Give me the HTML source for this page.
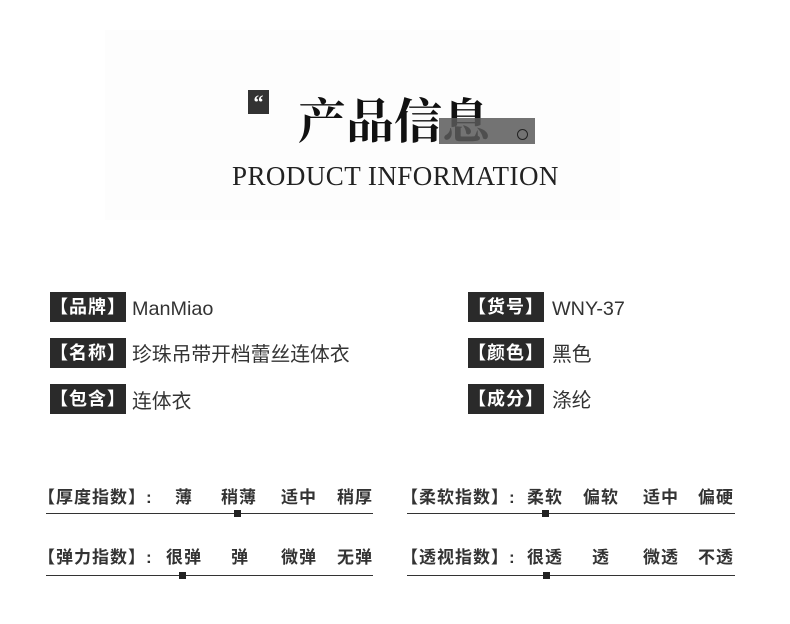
<!DOCTYPE html>
<html><head><meta charset="utf-8"><style>
body{margin:0;width:790px;height:624px;background:#fff;position:relative;overflow:hidden;font-family:"Liberation Sans","Noto Sans CJK SC",sans-serif;color:#222}
.a{position:absolute;white-space:nowrap}
.lb{position:absolute;background:#2a2a2a;color:#fff;font-size:18px;font-weight:bold;height:30px;line-height:30px;width:76px;text-align:center;letter-spacing:1px}
.v{position:absolute;font-size:19.8px;color:#333;line-height:30px;white-space:nowrap}
.t{position:absolute;font-size:17px;font-weight:bold;color:#333;line-height:20px;letter-spacing:1px}
.ln{position:absolute;height:1px;background:#333}
.m{position:absolute;width:7px;height:7px;background:#222}
</style></head><body>
<div class="a" style="left:105px;top:30px;width:515px;height:190px;background:#fdfdfd"></div>
<div class="a" style="left:248px;top:90px;width:21px;height:24px;background:#333;color:#fff;font:bold 20px 'Liberation Serif',serif;text-align:center;line-height:26px">“</div>
<div class="a" style="left:298px;top:88px;font:bold 48px 'Noto Serif CJK SC','Liberation Serif',serif;line-height:60px;color:#111">产品信息</div>
<div class="a" style="left:439px;top:118px;width:96px;height:26px;background:rgba(90,90,90,0.85)"></div>
<div class="a" style="left:517px;top:129px;width:9px;height:9px;border:1.5px solid #222;border-radius:50%"></div>
<div class="a" style="left:232px;top:159px;font:27px 'Liberation Serif',serif;color:#222;line-height:34px;letter-spacing:0.45px">PRODUCT INFORMATION</div>

<div class="lb" style="left:50px;top:292px">【品牌】</div><div class="v" style="left:132px;top:294px">ManMiao</div>
<div class="lb" style="left:50px;top:338px">【名称】</div><div class="v" style="left:132px;top:340px">珍珠吊带开档蕾丝连体衣</div>
<div class="lb" style="left:50px;top:384px">【包含】</div><div class="v" style="left:132px;top:387px">连体衣</div>
<div class="lb" style="left:468px;top:292px">【货号】</div><div class="v" style="left:552px;top:294px">WNY-37</div>
<div class="lb" style="left:468px;top:338px">【颜色】</div><div class="v" style="left:552px;top:340px">黑色</div>
<div class="lb" style="left:468px;top:384px">【成分】</div><div class="v" style="left:552px;top:386px">涤纶</div>

<div class="t" style="left:38px;top:488px">【厚度指数】:</div>
<div class="t" style="left:175px;top:488px">薄</div><div class="t" style="left:221px;top:488px">稍薄</div><div class="t" style="left:281px;top:488px">适中</div><div class="t" style="left:337px;top:488px">稍厚</div>
<div class="ln" style="left:46px;top:513px;width:327px"></div><div class="m" style="left:234px;top:510px"></div>

<div class="t" style="left:38px;top:548px">【弹力指数】:</div>
<div class="t" style="left:166px;top:548px">很弹</div><div class="t" style="left:231px;top:548px">弹</div><div class="t" style="left:281px;top:548px">微弹</div><div class="t" style="left:337px;top:548px">无弹</div>
<div class="ln" style="left:46px;top:575px;width:327px"></div><div class="m" style="left:179px;top:572px"></div>

<div class="t" style="left:401px;top:488px">【柔软指数】:</div>
<div class="t" style="left:527px;top:488px">柔软</div><div class="t" style="left:583px;top:488px">偏软</div><div class="t" style="left:643px;top:488px">适中</div><div class="t" style="left:698px;top:488px">偏硬</div>
<div class="ln" style="left:407px;top:513px;width:328px"></div><div class="m" style="left:542px;top:510px"></div>

<div class="t" style="left:401px;top:548px">【透视指数】:</div>
<div class="t" style="left:527px;top:548px">很透</div><div class="t" style="left:592px;top:548px">透</div><div class="t" style="left:643px;top:548px">微透</div><div class="t" style="left:698px;top:548px">不透</div>
<div class="ln" style="left:407px;top:575px;width:328px"></div><div class="m" style="left:543px;top:572px"></div>
</body></html>
